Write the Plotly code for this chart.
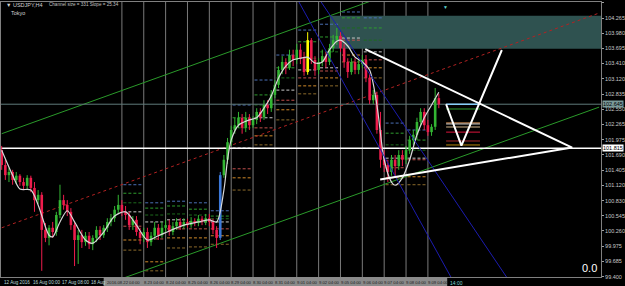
import plotly.graph_objects as go

# ---------------- data (USDJPY H4) ----------------
bar_index = list(range(121))
opens = [101.78,101.50,101.31,101.37,101.22,101.30,101.18,101.11,101.26,101.07,
         100.84,100.94,100.28,100.13,100.32,100.24,100.56,100.84,100.75,100.62,
         100.37,100.09,100.18,100.05,100.17,100.01,100.13,100.28,100.18,100.32,
         100.43,100.50,100.66,100.75,100.62,100.56,100.37,100.47,100.24,100.13,
         100.24,100.05,100.17,100.32,100.18,100.32,100.37,100.24,100.35,100.43,
         100.35,100.43,100.37,100.45,100.41,100.49,100.43,100.50,100.43,100.28,
         100.13,101.31,101.60,101.93,102.16,102.25,102.39,102.20,102.39,102.25,
         102.35,102.50,102.40,102.63,102.57,102.82,103.01,103.29,103.44,103.33,
         103.57,103.48,103.67,103.51,103.25,103.85,103.48,103.29,103.44,103.55,
         103.44,103.70,103.85,103.93,103.70,103.44,103.25,103.44,103.29,103.40,
         103.48,103.14,102.72,102.82,102.16,101.60,101.50,101.37,101.60,101.48,
         101.69,101.60,101.78,101.97,102.07,102.31,102.50,102.25,102.12,102.22,
         102.76]
highs = [101.86,101.60,101.45,101.41,101.37,101.33,101.26,101.31,101.30,101.18,
         101.03,100.99,100.41,100.37,100.43,100.62,101.13,100.94,100.84,100.69,
         100.43,100.28,100.28,100.24,100.24,100.18,100.35,100.35,100.37,100.50,
         100.58,100.73,100.94,100.84,100.73,100.62,100.54,100.54,100.32,100.32,
         100.32,100.24,100.43,100.39,100.43,100.47,100.47,100.43,100.50,100.50,
         100.50,100.49,100.52,100.50,100.56,100.54,100.58,100.58,100.49,100.35,
         101.37,101.69,102.01,102.24,102.39,102.50,102.46,102.50,102.46,102.42,
         102.57,102.57,102.72,102.72,102.91,103.10,103.36,103.55,103.51,103.67,
         103.67,103.78,103.78,103.63,104.00,103.89,103.55,103.51,103.67,103.63,
         103.78,103.95,104.08,104.00,103.78,103.51,103.51,103.51,103.48,103.57,
         103.57,103.21,102.91,102.88,102.50,101.78,101.60,101.69,101.69,101.78,
         101.78,101.86,102.05,102.16,102.39,102.57,102.57,102.35,102.27,102.95,
         102.84]
lows = [101.41,101.22,101.18,101.13,101.14,101.11,101.03,101.05,100.99,100.62,
        100.77,99.51,100.05,99.99,100.13,100.17,100.50,100.66,100.54,100.28,
        99.60,99.64,99.94,99.98,99.92,99.90,100.05,100.09,100.13,100.24,
        100.35,100.43,100.58,100.54,100.47,100.28,100.28,100.17,100.01,100.05,
        99.94,99.98,100.09,100.09,100.13,100.24,100.17,100.18,100.28,100.28,
        100.30,100.32,100.32,100.35,100.35,100.37,100.37,100.35,100.20,99.94,
        100.09,101.26,101.52,101.86,102.09,102.20,102.09,102.12,102.16,102.20,
        102.27,102.31,102.35,102.46,102.50,102.76,102.95,103.21,103.21,103.29,
        103.36,103.40,103.40,103.18,103.20,103.40,103.18,103.21,103.36,103.33,
        103.38,103.63,103.76,103.63,103.33,103.14,103.20,103.21,103.21,103.33,
        103.06,102.65,102.65,102.09,101.45,101.37,101.18,101.30,101.26,101.41,
        101.48,101.52,101.71,101.88,101.97,102.24,102.16,102.05,102.05,102.16,
        102.57]
closes = [101.50,101.31,101.37,101.22,101.30,101.18,101.11,101.26,101.07,100.84,
          100.94,100.28,100.13,100.32,100.24,100.56,100.84,100.75,100.62,100.37,
          100.09,100.18,100.05,100.17,100.01,100.13,100.28,100.18,100.32,100.43,
          100.50,100.66,100.75,100.62,100.56,100.37,100.47,100.24,100.13,100.24,
          100.05,100.17,100.32,100.18,100.32,100.37,100.24,100.35,100.43,100.35,
          100.43,100.37,100.45,100.41,100.49,100.43,100.50,100.43,100.28,100.13,
          101.31,101.60,101.93,102.16,102.25,102.39,102.20,102.39,102.25,102.35,
          102.50,102.40,102.63,102.57,102.82,103.01,103.29,103.44,103.33,103.57,
          103.48,103.67,103.51,103.25,103.85,103.48,103.29,103.44,103.55,103.44,
          103.70,103.85,103.93,103.70,103.44,103.25,103.44,103.29,103.40,103.48,
          103.14,102.72,102.82,102.16,101.60,101.50,101.37,101.60,101.48,101.69,
          101.60,101.78,101.97,102.07,102.31,102.50,102.25,102.12,102.22,102.76,
          102.645]
blue_bar = 60
yellow_bar = 84

# smoothed white moving average (knots)
ma_bars = [0,3,5,8,10,13,14,16,18,20,23,25,28,31,34,37,40,43,46,50,54,57,59,61,62,
           63,65,68,70,72,74,76,78,80,82,84,86,88,90,92,93,95,97,99,101,103,105,107,
           108,110,112,114,116,118,120]
ma_vals = [101.78,101.31,101.05,101.03,100.75,100.18,100.15,100.43,100.64,100.43,
           100.09,100.03,100.24,100.54,100.62,100.37,100.09,100.17,100.26,100.37,
           100.43,100.47,100.43,101.03,101.60,101.97,102.25,102.35,102.39,102.57,
           102.80,103.14,103.36,103.48,103.51,103.53,103.42,103.44,103.67,103.83,
           103.85,103.74,103.53,103.44,103.29,102.63,101.60,101.18,101.12,101.26,
           101.60,102.07,102.39,102.63,102.87]

# day separators (first bar of each day, 22 Aug .. 9 Sep)
day_start_bars = [33,39,45,51,57,63,69,75,81,87,93,99,105,111,117]
day_labels = ["2016.08.22 04:00","8.23 04:00","8.24 04:00","8.25 04:00","8.26 04:00",
              "8.29 04:00","8.30 04:00","8.31 04:00","9.01 04:00","9.02 04:00",
              "9.05 04:00","9.06 04:00","9.07 04:00","9.08 04:00","9.09 04:00"]
early_label_bars = [0,8,16,24]
early_labels = ["12 Aug 2016","16 Aug 00:00","17 Aug 08:00","18 Aug"]

# daily pivot levels per day column (7 levels, top to bottom)
pivot_levels = [
    [101.13,100.97,100.79,100.62,100.35,100.09,99.90],
    [100.79,100.69,100.56,100.43,100.11,99.68,99.51],
    [100.82,100.73,100.58,100.47,100.30,100.13,99.94],
    [100.79,100.67,100.56,100.43,100.30,100.13,99.96],
    [100.64,100.54,100.49,100.43,100.30,100.17,100.01],
    [102.63,102.39,102.20,101.82,101.43,101.26,101.03],
    [103.10,102.82,102.63,102.39,102.20,102.05,101.88],
    [103.57,103.33,103.14,102.91,102.72,102.54,102.35],
    [104.04,103.82,103.51,103.29,103.14,102.99,102.84],
    [104.15,103.91,103.63,103.33,103.27,103.14,102.99],
    [104.38,104.27,104.08,103.89,103.85,103.57,103.44],
    [104.27,104.08,103.85,103.63,103.48,103.33,103.14],
    [102.29,102.10,101.88,101.63,101.45,101.26,101.13],
    [102.16,101.97,101.78,101.63,101.60,101.28,101.13],
]
# current-day levels projected to the right
today_levels = [102.555,102.292,102.273,102.216,102.12,101.953,101.878]
today_span = [122.0,131.3]

# regression channel (bar, price)
channel_bars = [0,164]
channel_mid = [100.32,104.36]
channel_up = [102.09,106.13]
channel_low = [98.55,102.59]

# navy trend lines
navy_a_bars = [86,140]
navy_a_vals = [104.74,99.25]
navy_b_bars = [79,126]
navy_b_vals = [104.89,99.06]

# triangle and pattern
tri_bars = [99.8,156.6,103.9]
tri_vals = [103.68,101.83,101.23]
v_bars = [122.0,126.2,137.3]
v_vals = [102.644,101.865,103.665]

# zone rectangle
zone_bars = [90.1,170]
zone_vals = [103.69,104.31]

bid = 102.645
hline = 101.815

tick_vals = [104.555,104.265,103.980,103.695,103.410,103.120,102.835,102.550,102.265,
             101.975,101.690,101.405,101.120,100.830,100.545,100.260,99.975,99.685,99.400]

# ---------------- figure ----------------
fig = go.Figure()
XR = [-0.19, 164.52]
YR = [99.394, 104.568]

# pivot dashes
piv_colors = ["#4a6fb5", "#2e9c2e", "#1d6b1d", "#c8c8c8", "#c0504d", "#d08a2a", "#8b6a2b"]
for li, col in enumerate(piv_colors):
    xs, ys = [], []
    for k, lv in enumerate(pivot_levels):
        s = day_start_bars[k]
        xs += [s + 0.4, s + 5.6, None]
        ys += [lv[li], lv[li], None]
    fig.add_trace(go.Scatter(x=xs, y=ys, mode="lines",
                             line=dict(color=col, width=1, dash="3px,2px"), hoverinfo="skip"))
today_colors = ["#2e9c2e", "#f4a460", "#c8c8c8", "#d2b48c", "#dc143c", "#a52a2a", "#b8860b"]
for lv, col in zip(today_levels, today_colors):
    fig.add_trace(go.Scatter(x=today_span, y=[lv, lv], mode="lines",
                             line=dict(color=col, width=1), hoverinfo="skip"))

# channel
fig.add_trace(go.Scatter(x=channel_bars, y=channel_mid, mode="lines",
                         line=dict(color="#b22222", width=1, dash="dot")))
fig.add_trace(go.Scatter(x=channel_bars, y=channel_up, mode="lines",
                         line=dict(color="#2a9a2a", width=1)))
fig.add_trace(go.Scatter(x=channel_bars, y=channel_low, mode="lines",
                         line=dict(color="#2a9a2a", width=1)))

# horizontal lines
fig.add_trace(go.Scatter(x=XR, y=[bid, bid], mode="lines", line=dict(color="#5f7a7a", width=1)))
fig.add_trace(go.Scatter(x=XR, y=[hline, hline], mode="lines", line=dict(color="#ffffff", width=1.5)))
fig.add_trace(go.Scatter(x=today_span, y=[bid, bid], mode="lines", line=dict(color="#87cefa", width=1.5)))

# candles
BULL, BEAR, BLUE, YEL = "#33b533", "#ee1c4c", "#3c78d8", "#ffff00"
groups = {}
for i, o, h, l, c in zip(bar_index, opens, highs, lows, closes):
    if i == blue_bar:
        col = BLUE
    elif i == yellow_bar:
        col = YEL
    else:
        col = BULL if c >= o else BEAR
    g = groups.setdefault(col, {"wx": [], "wy": [], "bx": [], "by": []})
    g["wx"] += [i, i, None]
    g["wy"] += [l, h, None]
    lo, hi = min(o, c), max(o, c)
    if hi - lo < 0.012:
        hi = lo + 0.012
    g["bx"] += [i, i, None]
    g["by"] += [lo, hi, None]
for col, g in groups.items():
    fig.add_trace(go.Scatter(x=g["wx"], y=g["wy"], mode="lines", line=dict(color=col, width=1)))
    fig.add_trace(go.Scatter(x=g["bx"], y=g["by"], mode="lines", line=dict(color=col, width=2.6)))

# MA
fig.add_trace(go.Scatter(x=ma_bars, y=ma_vals, mode="lines",
                         line=dict(color="#d8d8d8", width=1.2, shape="spline", smoothing=0.8)))

# navy lines
fig.add_trace(go.Scatter(x=navy_a_bars, y=navy_a_vals, mode="lines", line=dict(color="#1c1cb0", width=1)))
fig.add_trace(go.Scatter(x=navy_b_bars, y=navy_b_vals, mode="lines", line=dict(color="#1c1cb0", width=1)))

# triangle and V
fig.add_trace(go.Scatter(x=tri_bars, y=tri_vals, mode="lines", line=dict(color="#ffffff", width=2)))
fig.add_trace(go.Scatter(x=v_bars, y=v_vals, mode="lines", line=dict(color="#ffffff", width=2)))

shapes = [dict(type="rect", xref="x", yref="y", x0=zone_bars[0], x1=zone_bars[1],
               y0=zone_vals[0], y1=zone_vals[1], fillcolor="#2f5250", line=dict(width=0), layer="below")]
for s in day_start_bars:
    shapes.append(dict(type="line", xref="x", yref="paper", x0=s, x1=s, y0=0, y1=1,
                       line=dict(color="#7a7a7a", width=1), layer="below"))
# bottom time-scale strip
shapes.append(dict(type="rect", xref="x", yref="paper", x0=28.0, x1=122.3, y0=-0.0327, y1=0,
                   fillcolor="#8a8a8a", line=dict(width=0), layer="above"))

ann = []
for b, t in zip(early_label_bars, early_labels):
    ann.append(dict(x=b, y=0, xref="x", yref="paper", text=t, showarrow=False,
                    xanchor="left", yanchor="top", yshift=-1,
                    font=dict(size=4.6, color="#b8d8d8", family="Liberation Sans")))
for k, (s, t) in enumerate(zip(day_start_bars, day_labels)):
    xb = 28.3 if k == 0 else s - 0.5
    ann.append(dict(x=xb, y=0, xref="x", yref="paper", text=t, showarrow=False,
                    xanchor="left", yanchor="top", yshift=-1,
                    font=dict(size=4.2, color="#202020", family="Liberation Sans")))
ann.append(dict(x=122.6, y=0, xref="x", yref="paper", text="14:00", showarrow=False,
                xanchor="left", yanchor="top", yshift=-1,
                font=dict(size=5, color="#7fd0d0", family="Liberation Sans")))
# price boxes on the right scale
ann.append(dict(x=1, y=bid, xref="paper", yref="y", text=f"{bid:.3f}", showarrow=False,
                xanchor="left", yanchor="middle", xshift=1, bgcolor="#7a9a9a", borderpad=0,
                font=dict(size=5.5, color="#000000", family="Liberation Sans")))
ann.append(dict(x=1, y=hline, xref="paper", yref="y", text=f"{hline:.3f}", showarrow=False,
                xanchor="left", yanchor="middle", xshift=1, bgcolor="#ffffff", borderpad=0,
                font=dict(size=5.5, color="#000000", family="Liberation Sans")))
# header texts
ann.append(dict(x=0.005, y=0.99, xref="paper", yref="paper", text="▼ USDJPY,H4", showarrow=False,
                xanchor="left", yanchor="middle", font=dict(size=5.5, color="#d0d0d0", family="Liberation Sans")))
ann.append(dict(x=0.013, y=0.96, xref="paper", yref="paper", text="Tokyo", showarrow=False,
                xanchor="left", yanchor="middle", font=dict(size=5.5, color="#d0d0d0", family="Liberation Sans")))
ann.append(dict(x=0.077, y=0.99, xref="paper", yref="paper", text="Channel size = 331 Slope = 25.34",
                showarrow=False, xanchor="left", yanchor="middle",
                font=dict(size=4.6, color="#c0c0c0", family="Liberation Sans")))
ann.append(dict(x=0.74, y=1.0, xref="paper", yref="paper", text="▼", showarrow=False,
                xanchor="center", yanchor="top", font=dict(size=5, color="#5fd0d0")))
ann.append(dict(x=0.996, y=0.033, xref="paper", yref="paper", text="0.0", showarrow=False,
                xanchor="right", yanchor="middle", font=dict(size=11, color="#ffffff", family="Liberation Sans")))

fig.update_layout(
    width=625, height=286, margin=dict(l=0, r=21, t=2, b=9),
    paper_bgcolor="#000000", plot_bgcolor="#000000", showlegend=False,
    shapes=shapes, annotations=ann,
    xaxis=dict(range=XR, showgrid=False, zeroline=False, showticklabels=False,
               showline=True, linecolor="#808080", mirror=True, ticks=""),
    yaxis=dict(range=YR, side="right", tickvals=tick_vals, ticktext=[f"{v:.3f}" for v in tick_vals],
               tickfont=dict(size=5.5, color="#c8c8c8", family="Liberation Sans"),
               ticks="outside", ticklen=2, tickcolor="#a0a0a0", showgrid=False, zeroline=False,
               showline=True, linecolor="#808080", mirror=True),
)

fig.write_html("out.html")
